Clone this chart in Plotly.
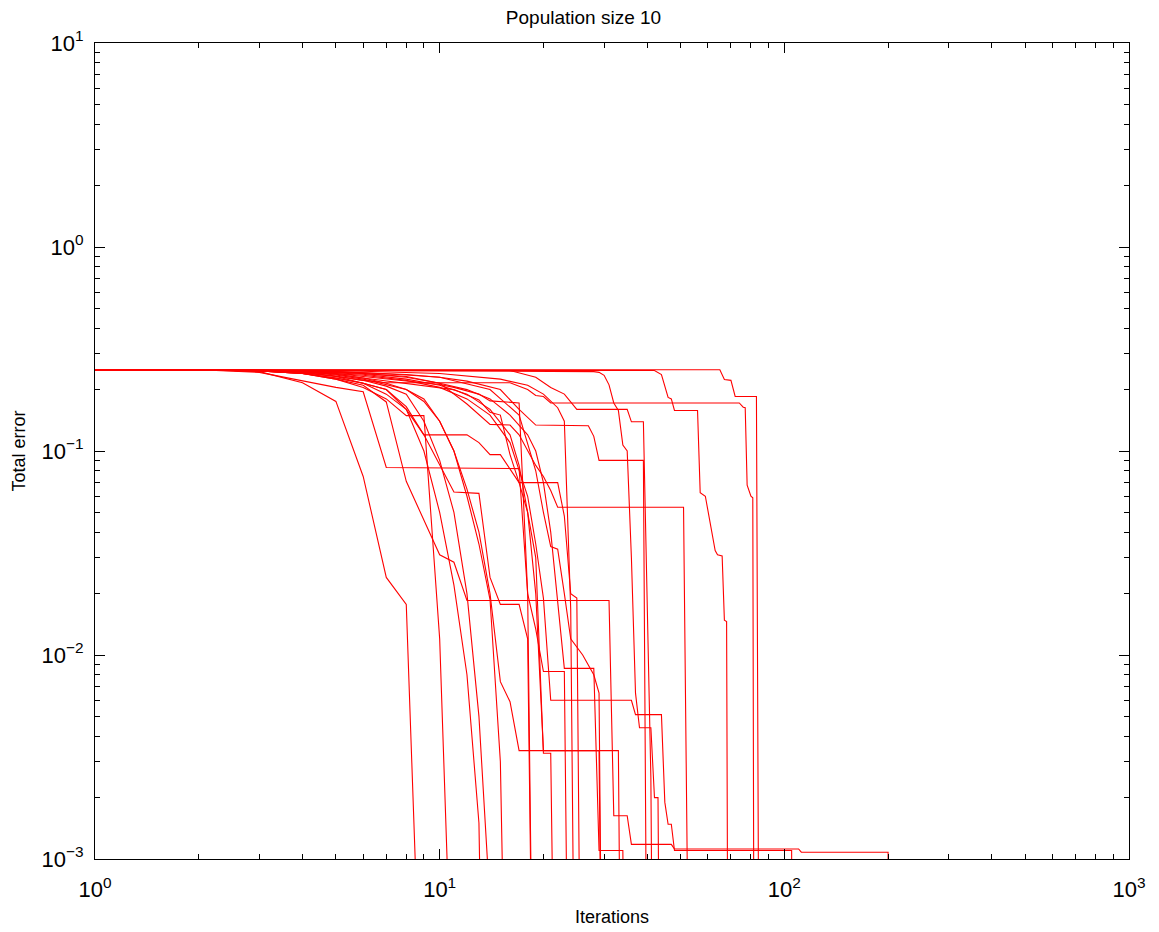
import plotly.graph_objects as go

# ---- data: each run = (iterations, total error) ----
run_a_x = [1, 2, 3, 4, 5, 6, 7, 8, 9]
run_a_y = [0.25, 0.25, 0.245, 0.216, 0.175, 0.075, 0.024, 0.0177, 6e-5]

run_b_x = [1, 2, 3, 4, 5, 6, 7, 17, 18, 19, 20, 23, 24]
run_b_y = [0.25, 0.25, 0.243, 0.22, 0.205, 0.195, 0.083, 0.082, 0.02, 0.0134, 0.0083, 0.0083, 1e-5]

run_c_x = [1, 2, 3, 4, 5, 6, 7, 8, 10, 11, 12, 31, 32, 35, 36, 47, 48, 110, 112, 200, 201]
run_c_y = [0.25, 0.25, 0.247, 0.24, 0.225, 0.21, 0.174, 0.071, 0.031, 0.0285, 0.0185, 0.0185,
           0.00163, 0.00163, 0.00118, 0.00118, 0.00112, 0.00112, 0.00108, 0.00108, 1e-6]

run_d_x = [1, 2, 3, 4, 5, 6, 7, 8, 9, 10, 11]
run_d_y = [0.25, 0.25, 0.247, 0.24, 0.225, 0.205, 0.18, 0.149, 0.149, 0.012, 1e-4]

run_e_x = [1, 2, 3, 4, 6, 8, 10, 12, 14, 16, 18, 19, 20, 21, 36, 37, 44, 45, 46, 47, 48, 105, 106]
run_e_y = [0.25, 0.25, 0.248, 0.245, 0.235, 0.222, 0.205, 0.18, 0.15, 0.11, 0.06, 0.035, 0.019,
           0.006, 0.006, 0.0051, 0.0051, 0.0019, 0.00148, 0.00148, 0.0011, 0.0011, 1e-6]

run_f_x = [1, 2, 3, 4, 5, 6, 7, 8, 9, 12, 13, 14, 15, 16, 17, 22, 23, 24, 25, 26]
run_f_y = [0.25, 0.25, 0.247, 0.24, 0.228, 0.215, 0.2, 0.165, 0.12, 0.12, 0.11, 0.096, 0.096,
           0.082, 0.07, 0.07, 0.048, 0.02, 0.019, 1e-5]

run_g_x = [1, 2, 3, 4, 5, 6, 7, 8, 9, 10, 11, 13, 14, 15, 17, 18, 19]
run_g_y = [0.25, 0.25, 0.247, 0.242, 0.232, 0.215, 0.19, 0.16, 0.12, 0.085, 0.063, 0.062, 0.024,
           0.0177, 0.0177, 0.012, 1e-5]

run_h_x = [1, 2, 3, 4, 5, 6, 7, 8, 9, 10, 11, 12, 13, 14, 15, 16, 17, 29, 30]
run_h_y = [0.25, 0.25, 0.248, 0.245, 0.238, 0.228, 0.215, 0.2, 0.175, 0.14, 0.1, 0.065, 0.04,
           0.02, 0.0074, 0.0059, 0.0034, 0.0034, 1e-5]

run_i_x = [1, 2, 3, 4, 6, 8, 10, 12, 14, 16, 17, 18, 19, 20, 33, 34]
run_i_y = [0.25, 0.25, 0.248, 0.246, 0.238, 0.225, 0.21, 0.19, 0.16, 0.12, 0.085, 0.05, 0.02,
           0.0034, 0.0034, 1e-5]

run_j_x = [1, 2, 3, 4, 6, 8, 10, 12, 14, 16, 18, 19, 20, 21, 22, 23, 28, 29, 34, 35]
run_j_y = [0.25, 0.25, 0.248, 0.246, 0.24, 0.23, 0.215, 0.2, 0.18, 0.15, 0.12, 0.1, 0.07, 0.04,
           0.018, 0.0086, 0.0086, 0.0011, 0.0011, 1e-5]

run_k_x = [1, 2, 3, 4, 5, 6, 7, 8, 9, 10, 11, 12, 13, 14, 15, 16]
run_k_y = [0.25, 0.25, 0.248, 0.244, 0.236, 0.225, 0.212, 0.2, 0.18, 0.14, 0.1, 0.06, 0.035,
           0.0187, 0.003, 1e-5]

run_l_x = [1, 2, 3, 4, 5, 6, 7, 8, 9, 10, 11, 12, 13, 14]
run_l_y = [0.25, 0.25, 0.247, 0.24, 0.228, 0.215, 0.2, 0.16, 0.1, 0.05, 0.022, 0.008, 0.0015, 1e-6]

run_m_x = [1, 2, 3, 4, 5, 6, 7, 8, 9, 10, 11, 12, 13, 14, 15]
run_m_y = [0.25, 0.25, 0.248, 0.243, 0.233, 0.222, 0.208, 0.19, 0.14, 0.09, 0.05, 0.02, 0.005,
           0.0006, 1e-6]

run_n_x = [1, 2, 3, 4, 5, 6, 8, 10, 11, 13, 14, 17, 18, 19]
run_n_y = [0.25, 0.25, 0.248, 0.245, 0.24, 0.232, 0.22, 0.212, 0.205, 0.19, 0.176, 0.172, 0.02, 1e-5]

run_o_x = [1, 2, 3, 4, 5, 6, 8, 10, 11, 13, 14, 15, 16, 17, 18, 19, 20, 21, 22]
run_o_y = [0.25, 0.25, 0.248, 0.245, 0.238, 0.228, 0.215, 0.205, 0.2, 0.178, 0.155, 0.15, 0.096,
           0.07, 0.05, 0.03, 0.0033, 0.0033, 1e-5]

run_p_x = [1, 2, 3, 4, 6, 8, 10, 15, 18, 20, 22, 23, 24, 25]
run_p_y = [0.25, 0.25, 0.249, 0.248, 0.246, 0.243, 0.24, 0.225, 0.21, 0.19, 0.163, 0.14, 0.0168, 1e-5]

run_q_x = [1, 2, 3, 4, 6, 8, 10, 14, 17, 19, 20, 21, 22, 23, 24, 26, 28, 29, 30]
run_q_y = [0.25, 0.25, 0.249, 0.247, 0.242, 0.236, 0.23, 0.2, 0.15, 0.08, 0.05, 0.034, 0.033,
           0.02, 0.012, 0.01, 0.008, 0.0065, 1e-5]

run_r1_x = [1, 2, 3, 5, 10, 65, 67, 70, 72, 83, 85]
run_r1_y = [0.25, 0.25, 0.25, 0.25, 0.25, 0.25, 0.224, 0.222, 0.185, 0.185, 1e-5]

run_r2_x = [1, 2, 3, 5, 10, 20, 30, 42, 44, 46, 47, 48, 56, 57, 59, 61, 63, 64, 66, 67, 68, 69]
run_r2_y = [0.25, 0.25, 0.25, 0.25, 0.249, 0.249, 0.249, 0.248, 0.237, 0.183, 0.18, 0.158, 0.158,
            0.0625, 0.06, 0.044, 0.0325, 0.031, 0.0306, 0.0148, 0.0146, 1e-5]

run_r3_x = [1, 2, 3, 5, 10, 20, 28, 29, 30, 31, 32, 33, 34, 35, 36, 37, 38, 41, 42, 43, 44]
run_r3_y = [0.25, 0.25, 0.249, 0.248, 0.247, 0.246, 0.245, 0.243, 0.235, 0.211, 0.172, 0.158,
            0.107, 0.1, 0.03, 0.0065, 0.0044, 0.0044, 0.002, 0.002, 1e-5]

run_r4_x = [1, 2, 3, 4, 5, 6, 7, 16, 18, 19, 20, 21, 74, 76, 77, 78, 80, 81, 82]
run_r4_y = [0.25, 0.25, 0.248, 0.242, 0.232, 0.222, 0.216, 0.216, 0.2, 0.187, 0.185, 0.172,
            0.172, 0.164, 0.163, 0.068, 0.06, 0.059, 1e-5]

run_r5_x = [1, 2, 3, 5, 8, 10, 12, 14, 16, 17, 18, 19, 20, 21, 22, 51, 53]
run_r5_y = [0.25, 0.25, 0.249, 0.245, 0.232, 0.215, 0.17, 0.135, 0.134, 0.12, 0.1, 0.085, 0.075,
            0.064, 0.053, 0.053, 1e-4]

run_r6_x = [1, 2, 3, 5, 8, 10, 12, 15, 17, 19, 27, 28, 29, 39, 40]
run_r6_y = [0.25, 0.25, 0.249, 0.245, 0.237, 0.23, 0.22, 0.2, 0.16, 0.134, 0.133, 0.118, 0.09,
            0.09, 1e-4]

run_r7_x = [1, 2, 3, 5, 10, 14, 16, 19, 21, 23, 25, 35, 36, 39, 40, 41, 42]
run_r7_y = [0.25, 0.25, 0.25, 0.249, 0.249, 0.249, 0.248, 0.23, 0.205, 0.19, 0.16, 0.16, 0.139,
            0.139, 0.02, 0.0025, 1e-5]

runs = [
    (run_a_x, run_a_y), (run_b_x, run_b_y), (run_c_x, run_c_y), (run_d_x, run_d_y),
    (run_e_x, run_e_y), (run_f_x, run_f_y), (run_g_x, run_g_y), (run_h_x, run_h_y),
    (run_i_x, run_i_y), (run_j_x, run_j_y), (run_k_x, run_k_y), (run_l_x, run_l_y),
    (run_m_x, run_m_y), (run_n_x, run_n_y), (run_o_x, run_o_y), (run_p_x, run_p_y),
    (run_q_x, run_q_y), (run_r1_x, run_r1_y), (run_r2_x, run_r2_y), (run_r3_x, run_r3_y),
    (run_r4_x, run_r4_y), (run_r5_x, run_r5_y), (run_r6_x, run_r6_y), (run_r7_x, run_r7_y),
]

x_major = [1, 10, 100, 1000]
x_major_text = ["10<sup>0</sup>", "10<sup>1</sup>", "10<sup>2</sup>", "10<sup>3</sup>"]
y_major = [0.001, 0.01, 0.1, 1, 10]
y_major_text = ["10<sup>\u22123</sup>", "10<sup>\u22122</sup>", "10<sup>\u22121</sup>",
                "10<sup>0</sup>", "10<sup>1</sup>"]

x_minor = [m * 10 ** e for e in range(0, 3) for m in range(2, 10)]
y_minor = [m * 10.0 ** e for e in range(-3, 1) for m in range(2, 10)]

title_text = "Population size 10"
x_title = "Iterations"
y_title = "Total error"

# ---- figure ----
fig = go.Figure()
for rx, ry in runs:
    fig.add_trace(go.Scatter(x=rx, y=ry, mode="lines",
                             line=dict(color="#ff0000", width=1.1),
                             showlegend=False, hoverinfo="skip"))

font_family = "Liberation Sans, Arial, sans-serif"
axis_common = dict(
    showline=True, linecolor="black", linewidth=1, mirror="ticks",
    ticks="inside", ticklen=10, tickcolor="black", tickwidth=1,
    showgrid=False, zeroline=False, automargin=False,
    tickfont=dict(family=font_family, size=22, color="black"),
)

fig.update_xaxes(type="log", range=[0, 3], tickvals=x_major, ticktext=x_major_text,
                 ticklabelstandoff=11,
                 minor=dict(tickvals=x_minor, ticks="inside", ticklen=5,
                            tickcolor="black", tickwidth=1, showgrid=False),
                 title=dict(text=x_title, font=dict(family=font_family, size=18, color="black"),
                            standoff=8),
                 **axis_common)
fig.update_yaxes(type="log", range=[-3, 1], tickvals=y_major, ticktext=y_major_text,
                 ticklabelstandoff=6,
                 minor=dict(tickvals=y_minor, ticks="inside", ticklen=5,
                            tickcolor="black", tickwidth=1, showgrid=False),
                 title=dict(text=y_title, font=dict(family=font_family, size=18, color="black"),
                            standoff=11),
                 **axis_common)

# page body has an 8px default margin, so the figure is offset by 8px
fig.update_layout(
    width=1151, height=924,
    margin=dict(l=87, r=30, t=35, b=73),
    plot_bgcolor="white", paper_bgcolor="white",
    title=dict(text=title_text, x=0.5, xanchor="center", y=0.990, yanchor="middle",
               font=dict(family=font_family, size=19, color="black")),
    font=dict(family=font_family, color="black"),
)

fig.write_html("out.html")
